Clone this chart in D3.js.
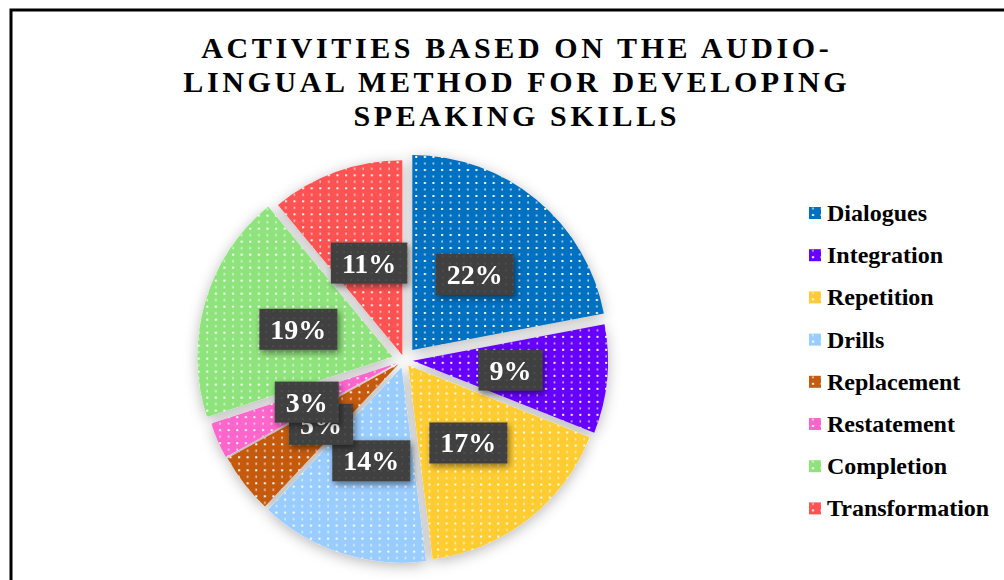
<!DOCTYPE html>
<html>
<head>
<meta charset="utf-8">
<script src="https://cdn.jsdelivr.net/npm/d3@7"></script>
<style>
  html, body { margin: 0; padding: 0; background: #fff; }
  svg { display: block; }
</style>
</head>
<body>
<svg id="chart" width="1004" height="580"></svg>
<script>
// Activities based on the audio-lingual method (share of each activity, %)
const categories = ["Dialogues", "Integration", "Repetition", "Drills",
                    "Replacement", "Restatement", "Completion", "Transformation"];
const values = [22, 9, 17, 14, 5, 3, 19, 11];
const titleLines = ["ACTIVITIES BASED ON THE AUDIO-",
                    "LINGUAL METHOD FOR DEVELOPING",
                    "SPEAKING SKILLS"];

// Styling
const colors = ["#0070C0", "#6600FF", "#FFCC33", "#99CCFF",
                "#C55A11", "#FF66CC", "#8FE37B", "#FF5252"];
const explode = [13, 9, 7, 8, 7, 8, 12, 5];

const W = 1004, H = 580;
const cx = 404, cy = 360, R = 195, labelR = 98;

const svg = d3.select("#chart");
const defs = svg.append("defs");

// White dotted pattern on each slice colour
colors.forEach((c, i) => {
  const p = defs.append("pattern")
    .attr("id", "dots" + i)
    .attr("patternUnits", "userSpaceOnUse")
    .attr("width", 8.6).attr("height", 13);
  p.append("rect").attr("width", 8.6).attr("height", 13).attr("fill", c);
  p.append("rect").attr("x", 3).attr("y", 1).attr("width", 2).attr("height", 2).attr("fill", "#fff");
  p.append("rect").attr("x", 3.3).attr("y", 7.5).attr("width", 1.3).attr("height", 2).attr("fill", "#fff").attr("opacity", 0.9);
});

// Texture for label boxes
const lp = defs.append("pattern")
  .attr("id", "boxtex").attr("patternUnits", "userSpaceOnUse")
  .attr("width", 7).attr("height", 7);
lp.append("rect").attr("width", 7).attr("height", 7).attr("fill", "#3f3f3f");
lp.append("rect").attr("x", 2).attr("y", 2).attr("width", 2).attr("height", 2).attr("fill", "#4d4d4d");

// Soft shadow under the pie
const fPie = defs.append("filter").attr("id", "pieShadow")
  .attr("x", "-20%").attr("y", "-20%").attr("width", "140%").attr("height", "140%");
fPie.append("feDropShadow").attr("dx", 0).attr("dy", 3).attr("stdDeviation", 7)
  .attr("flood-color", "#000").attr("flood-opacity", 0.28);

// Shadow under label boxes
const fBox = defs.append("filter").attr("id", "boxShadow")
  .attr("x", "-30%").attr("y", "-30%").attr("width", "160%").attr("height", "170%");
fBox.append("feDropShadow").attr("dx", 2).attr("dy", 3).attr("stdDeviation", 3)
  .attr("flood-color", "#000").attr("flood-opacity", 0.45);

// Chart frame
svg.append("rect")
  .attr("x", 11).attr("y", 10).attr("width", W + 20).attr("height", H + 20)
  .attr("fill", "#fff").attr("stroke", "#000").attr("stroke-width", 3);

// Title
svg.append("text")
  .attr("x", 515).attr("y", 58)
  .attr("text-anchor", "middle")
  .attr("font-family", "'Liberation Serif', 'Times New Roman', serif")
  .attr("font-weight", "bold")
  .attr("font-size", 30)
  .attr("letter-spacing", 3.6)
  .attr("fill", "#000")
  .selectAll("tspan").data(titleLines).join("tspan")
  .attr("x", 515 + 1.8)
  .attr("dy", (d, i) => i === 0 ? 0 : 34)
  .text(d => d);

// Pie
const pie = d3.pie().sort(null).value(d => d.value);
const rows = categories.map((c, i) => ({ name: c, value: values[i], i }));
const arcs = pie(rows);
const arc = d3.arc().innerRadius(0).outerRadius(R);
const labelArc = d3.arc().innerRadius(labelR).outerRadius(labelR);

function offset(d) {
  const mid = (d.startAngle + d.endAngle) / 2;
  const e = explode[d.data.i];
  return [Math.sin(mid) * e, -Math.cos(mid) * e];
}

const g = svg.append("g").attr("transform", `translate(${cx},${cy})`);
g.append("g").attr("filter", "url(#pieShadow)")
  .selectAll("path").data(arcs).join("path")
  .attr("transform", d => `translate(${offset(d)})`)
  .attr("d", arc)
  .attr("fill", d => `url(#dots${d.data.i})`);

// Percentage labels
const pct = d3.format(".0%");
const labels = g.append("g").selectAll("g").data(arcs).join("g")
  .attr("transform", d => {
    const [x, y] = labelArc.centroid(d);
    const [ox, oy] = offset(d);
    return `translate(${x + ox},${y + oy})`;
  });
labels.each(function(d) {
  const sel = d3.select(this);
  const txt = pct(d.data.value / d3.sum(values));
  const t = sel.append("text")
    .attr("text-anchor", "middle")
    .attr("y", 9.5)
    .attr("font-family", "'Liberation Serif', 'Times New Roman', serif")
    .attr("font-weight", "bold")
    .attr("font-size", 28)
    .attr("fill", "#fff")
    .text(txt);
  const w = t.node().getComputedTextLength() + 22;
  sel.insert("rect", "text")
    .attr("x", -w / 2).attr("y", -20.5)
    .attr("width", w).attr("height", 41)
    .attr("fill", "url(#boxtex)")
    .attr("filter", "url(#boxShadow)");
});

// Legend
const legend = svg.append("g").attr("transform", "translate(809,213)");
const item = legend.selectAll("g").data(categories).join("g")
  .attr("transform", (d, i) => `translate(0,${i * 42.2})`);
item.append("rect")
  .attr("x", 0).attr("y", -6).attr("width", 12).attr("height", 12)
  .attr("fill", (d, i) => `url(#dots${i})`);
item.append("text")
  .attr("x", 18).attr("y", 8)
  .attr("font-family", "'Liberation Serif', 'Times New Roman', serif")
  .attr("font-weight", "bold")
  .attr("font-size", 24)
  .attr("fill", "#000")
  .text(d => d);
</script>
</body>
</html>
